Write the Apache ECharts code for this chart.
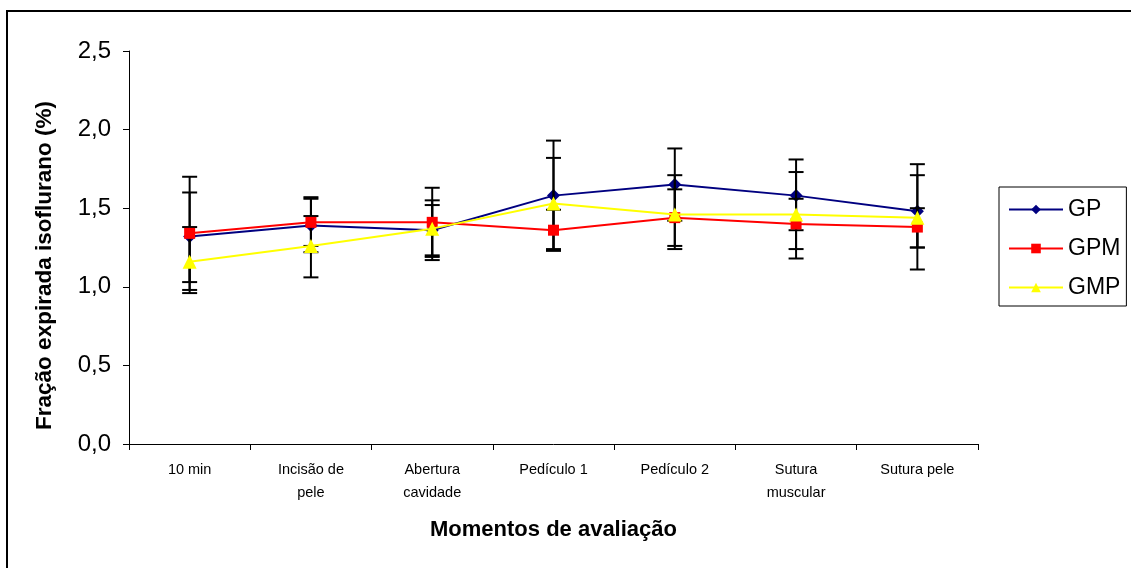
<!DOCTYPE html>
<html>
<head>
<meta charset="utf-8">
<script src="https://cdn.jsdelivr.net/npm/echarts@6/dist/echarts.min.js"></script>
<style>
html,body{margin:0;padding:0;background:#fff;}
#c{width:1131px;height:568px;}
</style>
</head>
<body>
<div id="c"></div>
<script>
var categories = ['10 min', 'Incisão de\npele', 'Abertura\ncavidade', 'Pedículo 1', 'Pedículo 2', 'Sutura\nmuscular', 'Sutura pele'];
var yTicks = ['0,0', '0,5', '1,0', '1,5', '2,0', '2,5'];
var seriesNames = ['GP', 'GPM', 'GMP'];

var gpMean  = [1.32, 1.39, 1.36, 1.58, 1.65, 1.58, 1.48];
var gpUpper = [1.70, 1.57, 1.55, 1.93, 1.88, 1.81, 1.71];
var gpLower = [0.96, 1.22, 1.17, 1.23, 1.42, 1.36, 1.25];

var gpmMean  = [1.34, 1.41, 1.41, 1.36, 1.44, 1.40, 1.38];
var gpmUpper = [1.60, 1.56, 1.63, 1.49, 1.62, 1.56, 1.50];
var gpmLower = [1.03, 1.26, 1.19, 1.23, 1.26, 1.24, 1.25];

var gmpMean  = [1.16, 1.26, 1.37, 1.53, 1.46, 1.46, 1.44];
var gmpUpper = [1.38, 1.45, 1.52, 1.82, 1.71, 1.73, 1.78];
var gmpLower = [0.98, 1.06, 1.20, 1.24, 1.24, 1.18, 1.11];

function errData(lo, hi) {
  return lo.map(function (v, i) { return [i, v, hi[i]]; });
}

function renderErr(params, api) {
  var i = api.value(0);
  var lo = api.coord([i, api.value(1)]);
  var hi = api.coord([i, api.value(2)]);
  var hw = 7.5;
  var st = { stroke: '#000', lineWidth: 2 };
  return {
    type: 'group',
    children: [
      { type: 'line', shape: { x1: lo[0], y1: lo[1], x2: hi[0], y2: hi[1] }, style: st },
      { type: 'line', shape: { x1: lo[0] - hw, y1: lo[1], x2: lo[0] + hw, y2: lo[1] }, style: st },
      { type: 'line', shape: { x1: hi[0] - hw, y1: hi[1], x2: hi[0] + hw, y2: hi[1] }, style: st }
    ]
  };
}

var chart = echarts.init(document.getElementById('c'), null, { renderer: 'canvas' });
var font = 'Liberation Sans, Arial, sans-serif';

chart.setOption({
  backgroundColor: '#fff',
  animation: false,
  graphic: [{
    type: 'rect',
    shape: { x: 7, y: 11, width: 1200, height: 700 },
    style: { fill: 'none', stroke: '#000', lineWidth: 2 },
    silent: true
  }],
  grid: { left: 129, top: 51, right: 153, bottom: 124, containLabel: false },
  legend: {
    orient: 'vertical',
    left: 999, top: 187,
    padding: [11, 6, 7, 9],
    itemGap: 16,
    itemWidth: 54, itemHeight: 12,
    itemTextGap: 5,
    borderColor: '#000', borderWidth: 1,
    backgroundColor: '#fff',
    textStyle: { fontFamily: font, fontSize: 23, color: '#000' },
    data: seriesNames
  },
  xAxis: {
    type: 'category',
    data: categories,
    boundaryGap: true,
    axisLine: { lineStyle: { color: '#000', width: 1 } },
    axisTick: { show: true, length: 6, inside: false, lineStyle: { color: '#000' } },
    axisLabel: { fontFamily: font, fontSize: 14.5, color: '#000', margin: 14, lineHeight: 23, interval: 0 },
    name: 'Momentos de avaliação',
    nameLocation: 'middle',
    nameGap: 75,
    nameTextStyle: { fontFamily: font, fontSize: 22, fontWeight: 'bold', color: '#000' }
  },
  yAxis: {
    type: 'value',
    min: 0, max: 2.5, interval: 0.5,
    splitLine: { show: false },
    axisLine: { show: true, lineStyle: { color: '#000', width: 1 } },
    axisTick: { show: true, length: 6, lineStyle: { color: '#000' } },
    axisLabel: {
      fontFamily: font, fontSize: 24, color: '#000', margin: 18,
      formatter: function (v) { return yTicks[Math.round(v / 0.5)]; }
    },
    name: 'Fração expirada isoflurano (%)',
    nameLocation: 'middle',
    nameGap: 73,
    nameRotate: 90,
    nameTextStyle: { fontFamily: font, fontSize: 22.5, fontWeight: 'bold', color: '#000', padding: [0, 36, 0, 0] }
  },
  series: [
    { type: 'custom', renderItem: renderErr, data: errData(gpLower, gpUpper), z: 3, silent: true },
    { type: 'custom', renderItem: renderErr, data: errData(gpmLower, gpmUpper), z: 3, silent: true },
    { type: 'custom', renderItem: renderErr, data: errData(gmpLower, gmpUpper), z: 3, silent: true },
    {
      name: 'GP', type: 'line', data: gpMean, z: 2,
      symbol: 'diamond', symbolSize: 13,
      itemStyle: { color: '#000080' },
      lineStyle: { color: '#000080', width: 2 }
    },
    {
      name: 'GPM', type: 'line', data: gpmMean, z: 4,
      symbol: 'rect', symbolSize: 11,
      itemStyle: { color: '#ff0000' },
      lineStyle: { color: '#ff0000', width: 2 }
    },
    {
      name: 'GMP', type: 'line', data: gmpMean, z: 5,
      symbol: 'triangle', symbolSize: 14,
      itemStyle: { color: '#ffff00' },
      lineStyle: { color: '#ffff00', width: 2 }
    }
  ]
});
</script>
</body>
</html>
